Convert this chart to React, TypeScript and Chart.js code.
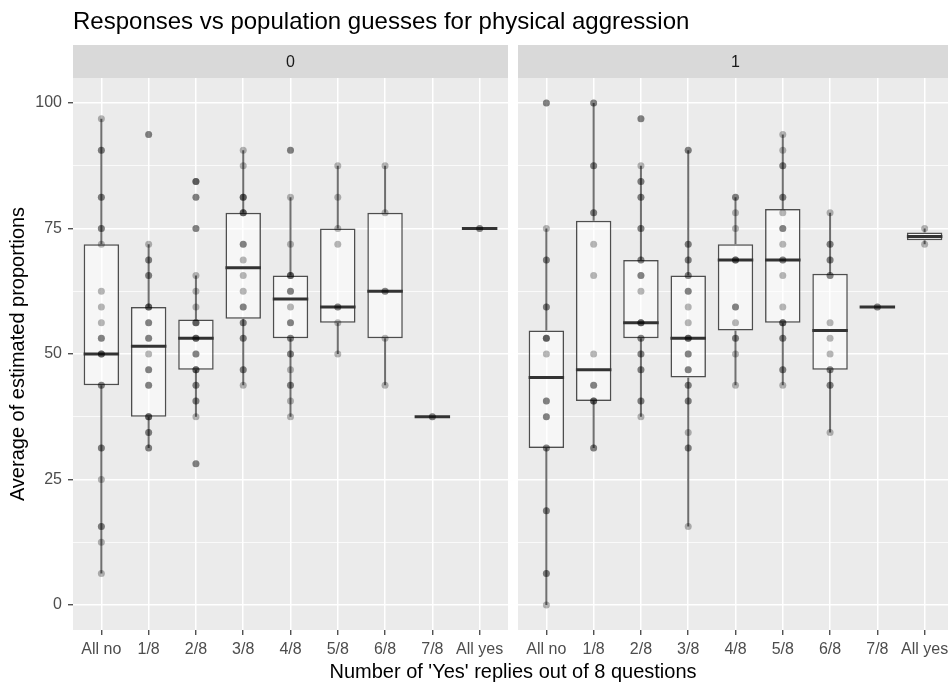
import React, { useEffect, useRef } from 'react';
import { Chart, registerables } from 'chart.js';

Chart.register(...registerables);

const chartTitle = 'Responses vs population guesses for physical aggression';
const xAxisTitle = "Number of 'Yes' replies out of 8 questions";
const yAxisTitle = 'Average of estimated proportions';
const categories = ['All no', '1/8', '2/8', '3/8', '4/8', '5/8', '6/8', '7/8', 'All yes'];
const panelLabels = ['0', '1'];
const yTickValues = [0, 12.5, 25, 37.5, 50, 62.5, 75, 87.5, 100];

// Box statistics, panel "0"
const whiskerLow0 = [6.25, 31.25, 37.5, 43.75, 37.5, 50, 43.75, 37.5, 75];
const q1_0 = [43.75, 37.5, 46.875, 57.0, 53.125, 56.25, 53.125, 37.5, 75];
const median0 = [50, 51.5625, 53.125, 67.1875, 60.9375, 59.375, 62.5, 37.5, 75];
const q3_0 = [71.875, 59.375, 56.875, 78.125, 65.625, 75, 78.125, 37.5, 75];
const whiskerHigh0 = [96.875, 71.875, 65.625, 90.625, 81.25, 87.5, 87.5, 37.5, 75];

// Box statistics, panel "1"
const whiskerLow1 = [0, 31.25, 37.5, 15.625, 43.75, 43.75, 34.375, 59.375, 71.875];
const q1_1 = [31.25, 40.625, 53.125, 45.3125, 54.6875, 56.25, 46.875, 59.375, 72.656];
const median1 = [45.3125, 46.875, 56.25, 53.125, 68.75, 68.75, 54.6875, 59.375, 73.4375];
const q3_1 = [54.6875, 76.5625, 68.75, 65.625, 71.875, 78.9, 66.0, 59.375, 74.219];
const whiskerHigh1 = [75, 100, 87.5, 90.625, 81.25, 93.75, 78.125, 59.375, 75];

// Individual responses, panel "0"
const points0: number[][] = [
  [96.875, 90.625, 90.625, 81.25, 81.25, 75, 75, 71.875, 62.5, 59.375, 56.25, 53.125, 53.125, 50, 50, 50, 43.75, 43.75, 31.25, 31.25, 25, 15.625, 15.625, 12.5, 6.25],
  [93.75, 93.75, 71.875, 68.75, 68.75, 65.625, 65.625, 59.375, 59.375, 59.375, 56.25, 56.25, 53.125, 53.125, 50, 46.875, 46.875, 43.75, 43.75, 37.5, 37.5, 37.5, 34.375, 34.375, 31.25, 31.25],
  [84.375, 84.375, 84.375, 81.25, 81.25, 75, 75, 65.625, 62.5, 59.375, 56.25, 56.25, 56.25, 53.125, 53.125, 53.125, 50, 50, 46.875, 46.875, 46.875, 43.75, 43.75, 40.625, 40.625, 37.5, 28.125, 28.125],
  [90.625, 87.5, 81.25, 81.25, 81.25, 78.125, 78.125, 78.125, 71.875, 71.875, 68.75, 65.625, 62.5, 59.375, 59.375, 56.25, 56.25, 53.125, 53.125, 46.875, 46.875, 43.75],
  [90.625, 90.625, 81.25, 71.875, 65.625, 65.625, 65.625, 62.5, 62.5, 59.375, 56.25, 56.25, 53.125, 53.125, 50, 50, 46.875, 43.75, 43.75, 40.625, 37.5],
  [87.5, 81.25, 75, 71.875, 59.375, 59.375, 56.25, 50],
  [87.5, 78.125, 62.5, 62.5, 53.125, 43.75],
  [37.5, 37.5],
  [75, 75],
];

// Individual responses, panel "1"
const points1: number[][] = [
  [100, 100, 75, 68.75, 68.75, 59.375, 59.375, 53.125, 53.125, 53.125, 50, 40.625, 40.625, 37.5, 37.5, 31.25, 31.25, 18.75, 18.75, 6.25, 6.25, 0],
  [100, 100, 87.5, 87.5, 78.125, 78.125, 71.875, 65.625, 50, 43.75, 43.75, 40.625, 40.625, 40.625, 31.25, 31.25],
  [96.875, 96.875, 87.5, 84.375, 84.375, 81.25, 81.25, 75, 75, 68.75, 68.75, 65.625, 65.625, 62.5, 56.25, 56.25, 56.25, 53.125, 53.125, 50, 50, 46.875, 46.875, 40.625, 40.625, 37.5],
  [90.625, 90.625, 71.875, 71.875, 68.75, 68.75, 65.625, 65.625, 62.5, 62.5, 59.375, 56.25, 53.125, 53.125, 53.125, 50, 50, 46.875, 46.875, 43.75, 43.75, 40.625, 40.625, 34.375, 31.25, 31.25, 15.625],
  [81.25, 81.25, 78.125, 75, 68.75, 68.75, 68.75, 59.375, 59.375, 56.25, 53.125, 53.125, 50, 43.75],
  [93.75, 90.625, 87.5, 87.5, 81.25, 81.25, 78.125, 75, 75, 71.875, 68.75, 68.75, 65.625, 59.375, 56.25, 56.25, 56.25, 53.125, 53.125, 46.875, 46.875, 43.75],
  [78.125, 71.875, 71.875, 68.75, 68.75, 65.625, 65.625, 56.25, 53.125, 50, 46.875, 46.875, 43.75, 43.75, 34.375],
  [59.375, 59.375],
  [75, 71.875],
];

// layout constants (facet geometry on a shared linear x scale)
const EXPAND = 0.6;
const PANEL_GAP = 0.2115;
const PANEL_OFFSET = 8 + 2 * EXPAND + PANEL_GAP;
const X_MIN = -EXPAND;
const X_MAX = PANEL_OFFSET + 8 + EXPAND;
const BOX_HALF = 0.375;
const FONT = '"Liberation Sans", Arial, Helvetica, sans-serif';

const panels = [
  { lo: whiskerLow0, q1: q1_0, med: median0, q3: q3_0, hi: whiskerHigh0, pts: points0 },
  { lo: whiskerLow1, q1: q1_1, med: median1, q3: q3_1, hi: whiskerHigh1, pts: points1 },
];

const xTickValues: number[] = [];
panels.forEach((_, p) => categories.forEach((_, i) => xTickValues.push(p * PANEL_OFFSET + i)));

const facetPlugin = {
  id: 'facets',
  beforeDraw(chart: any) {
    const { ctx, chartArea, scales } = chart;
    const xs = scales.x;
    ctx.save();
    ctx.fillStyle = '#EBEBEB';
    for (let p = 0; p < panelLabels.length; p++) {
      const off = p * PANEL_OFFSET;
      const l = xs.getPixelForValue(off - EXPAND);
      const r = xs.getPixelForValue(off + 8 + EXPAND);
      ctx.fillRect(l, chartArea.top, r - l, chartArea.bottom - chartArea.top);
    }
    ctx.restore();
  },
  afterDraw(chart: any) {
    const { ctx, chartArea, scales } = chart;
    const xs = scales.x;
    ctx.save();
    const stripTop = 45;
    for (let p = 0; p < panelLabels.length; p++) {
      const off = p * PANEL_OFFSET;
      const l = xs.getPixelForValue(off - EXPAND);
      const r = xs.getPixelForValue(off + 8 + EXPAND);
      ctx.fillStyle = '#D9D9D9';
      ctx.fillRect(l, stripTop, r - l, chartArea.top - stripTop);
      ctx.fillStyle = '#1A1A1A';
      ctx.font = `16px ${FONT}`;
      ctx.textAlign = 'center';
      ctx.textBaseline = 'middle';
      ctx.fillText(panelLabels[p], (l + r) / 2, (stripTop + chartArea.top) / 2 + 1);
    }
    ctx.fillStyle = '#000000';
    ctx.font = `24px ${FONT}`;
    ctx.textAlign = 'left';
    ctx.textBaseline = 'alphabetic';
    ctx.fillText(chartTitle, chartArea.left, 29);
    ctx.restore();
  },
};

export default function App() {
  const ref = useRef<HTMLCanvasElement | null>(null);

  useEffect(() => {
    if (!ref.current) return;
    const boxData: any[] = [];
    const whiskerData: any[] = [];
    const medianData: any[] = [];
    const pointData: any[] = [];
    const gap = { x: NaN, y: NaN };
    panels.forEach((pn, p) => {
      categories.forEach((_, i) => {
        const x = p * PANEL_OFFSET + i;
        boxData.push({ x, y: [pn.q1[i], pn.q3[i]] });
        whiskerData.push({ x, y: pn.lo[i] }, { x, y: pn.q1[i] }, gap, { x, y: pn.q3[i] }, { x, y: pn.hi[i] }, gap);
        medianData.push({ x: x - BOX_HALF, y: pn.med[i] }, { x: x + BOX_HALF, y: pn.med[i] }, gap);
        pn.pts[i].forEach((v) => pointData.push({ x, y: v }));
      });
    });

    const chart = new Chart(ref.current, {
      type: 'bar',
      data: {
        datasets: [
          {
            type: 'scatter',
            data: pointData,
            backgroundColor: 'rgba(0,0,0,0.28)',
            borderWidth: 0,
            pointRadius: 3.5,
            order: 0,
          } as any,
          {
            type: 'line',
            data: medianData,
            borderColor: '#333333',
            borderWidth: 3,
            pointRadius: 0,
            spanGaps: false,
            order: 1,
          } as any,
          {
            type: 'bar',
            data: boxData,
            backgroundColor: 'rgba(255,255,255,0.55)',
            borderColor: 'rgba(51,51,51,0.85)',
            borderWidth: 1.5,
            borderSkipped: false,
            categoryPercentage: 1,
            barPercentage: 0.75,
            order: 2,
          } as any,
          {
            type: 'line',
            data: whiskerData,
            borderColor: 'rgba(51,51,51,0.7)',
            borderWidth: 2,
            pointRadius: 0,
            spanGaps: false,
            order: 3,
          } as any,
        ],
      },
      options: {
        responsive: false,
        animation: false,
        devicePixelRatio: 1,
        events: [],
        layout: { padding: { top: 78, right: 7, bottom: 0, left: 0 } },
        plugins: { legend: { display: false }, tooltip: { enabled: false }, title: { display: false } },
        scales: {
          x: {
            type: 'linear',
            min: X_MIN,
            max: X_MAX,
            offset: false,
            border: { display: false },
            grid: {
              offset: false,
              color: '#FFFFFF',
              lineWidth: 1.5,
              drawTicks: true,
              tickLength: 5,
              tickColor: '#333333',
              tickWidth: 1.2,
            },
            afterBuildTicks: (scale: any) => {
              scale.ticks = xTickValues.map((v) => ({ value: v }));
            },
            afterFit: (scale: any) => {
              scale.height = 52;
            },
            ticks: {
              autoSkip: false,
              maxRotation: 0,
              minRotation: 0,
              padding: 5,
              color: '#4D4D4D',
              font: { family: FONT, size: 16 },
              callback: (_v: any, index: number) => categories[index % categories.length],
            },
            title: {
              display: true,
              text: xAxisTitle,
              color: '#000000',
              font: { family: FONT, size: 20, lineHeight: 1 },
              padding: { top: 0, bottom: 0 },
            },
          },
          y: {
            type: 'linear',
            min: -5,
            max: 105,
            border: { display: false },
            grid: {
              color: '#FFFFFF',
              lineWidth: (c: any) => (c.tick && c.tick.value % 25 === 0 ? 1.5 : 0.75),
              drawTicks: true,
              tickLength: 5,
              tickColor: (c: any) => (c.tick && c.tick.value % 25 === 0 ? '#333333' : 'rgba(0,0,0,0)'),
              tickWidth: 1.2,
            },
            afterBuildTicks: (scale: any) => {
              scale.ticks = yTickValues.map((v) => ({ value: v }));
            },
            afterFit: (scale: any) => {
              scale.width = 73;
            },
            ticks: {
              padding: 6,
              color: '#4D4D4D',
              font: { family: FONT, size: 16 },
              callback: (v: any) => (Number(v) % 25 === 0 ? String(v) : ''),
            },
            title: {
              display: true,
              text: yAxisTitle,
              color: '#000000',
              font: { family: FONT, size: 20 },
              padding: { top: 6, bottom: 0 },
            },
          },
        },
      } as any,
      plugins: [facetPlugin],
    });
    return () => chart.destroy();
  }, []);

  return (
    <div style={{ position: 'fixed', left: 0, top: 0, width: 948, height: 682, overflow: 'hidden', background: '#ffffff' }}>
      <canvas ref={ref} width={960} height={682} style={{ display: 'block', width: 960, height: 682 }} />
    </div>
  );
}
